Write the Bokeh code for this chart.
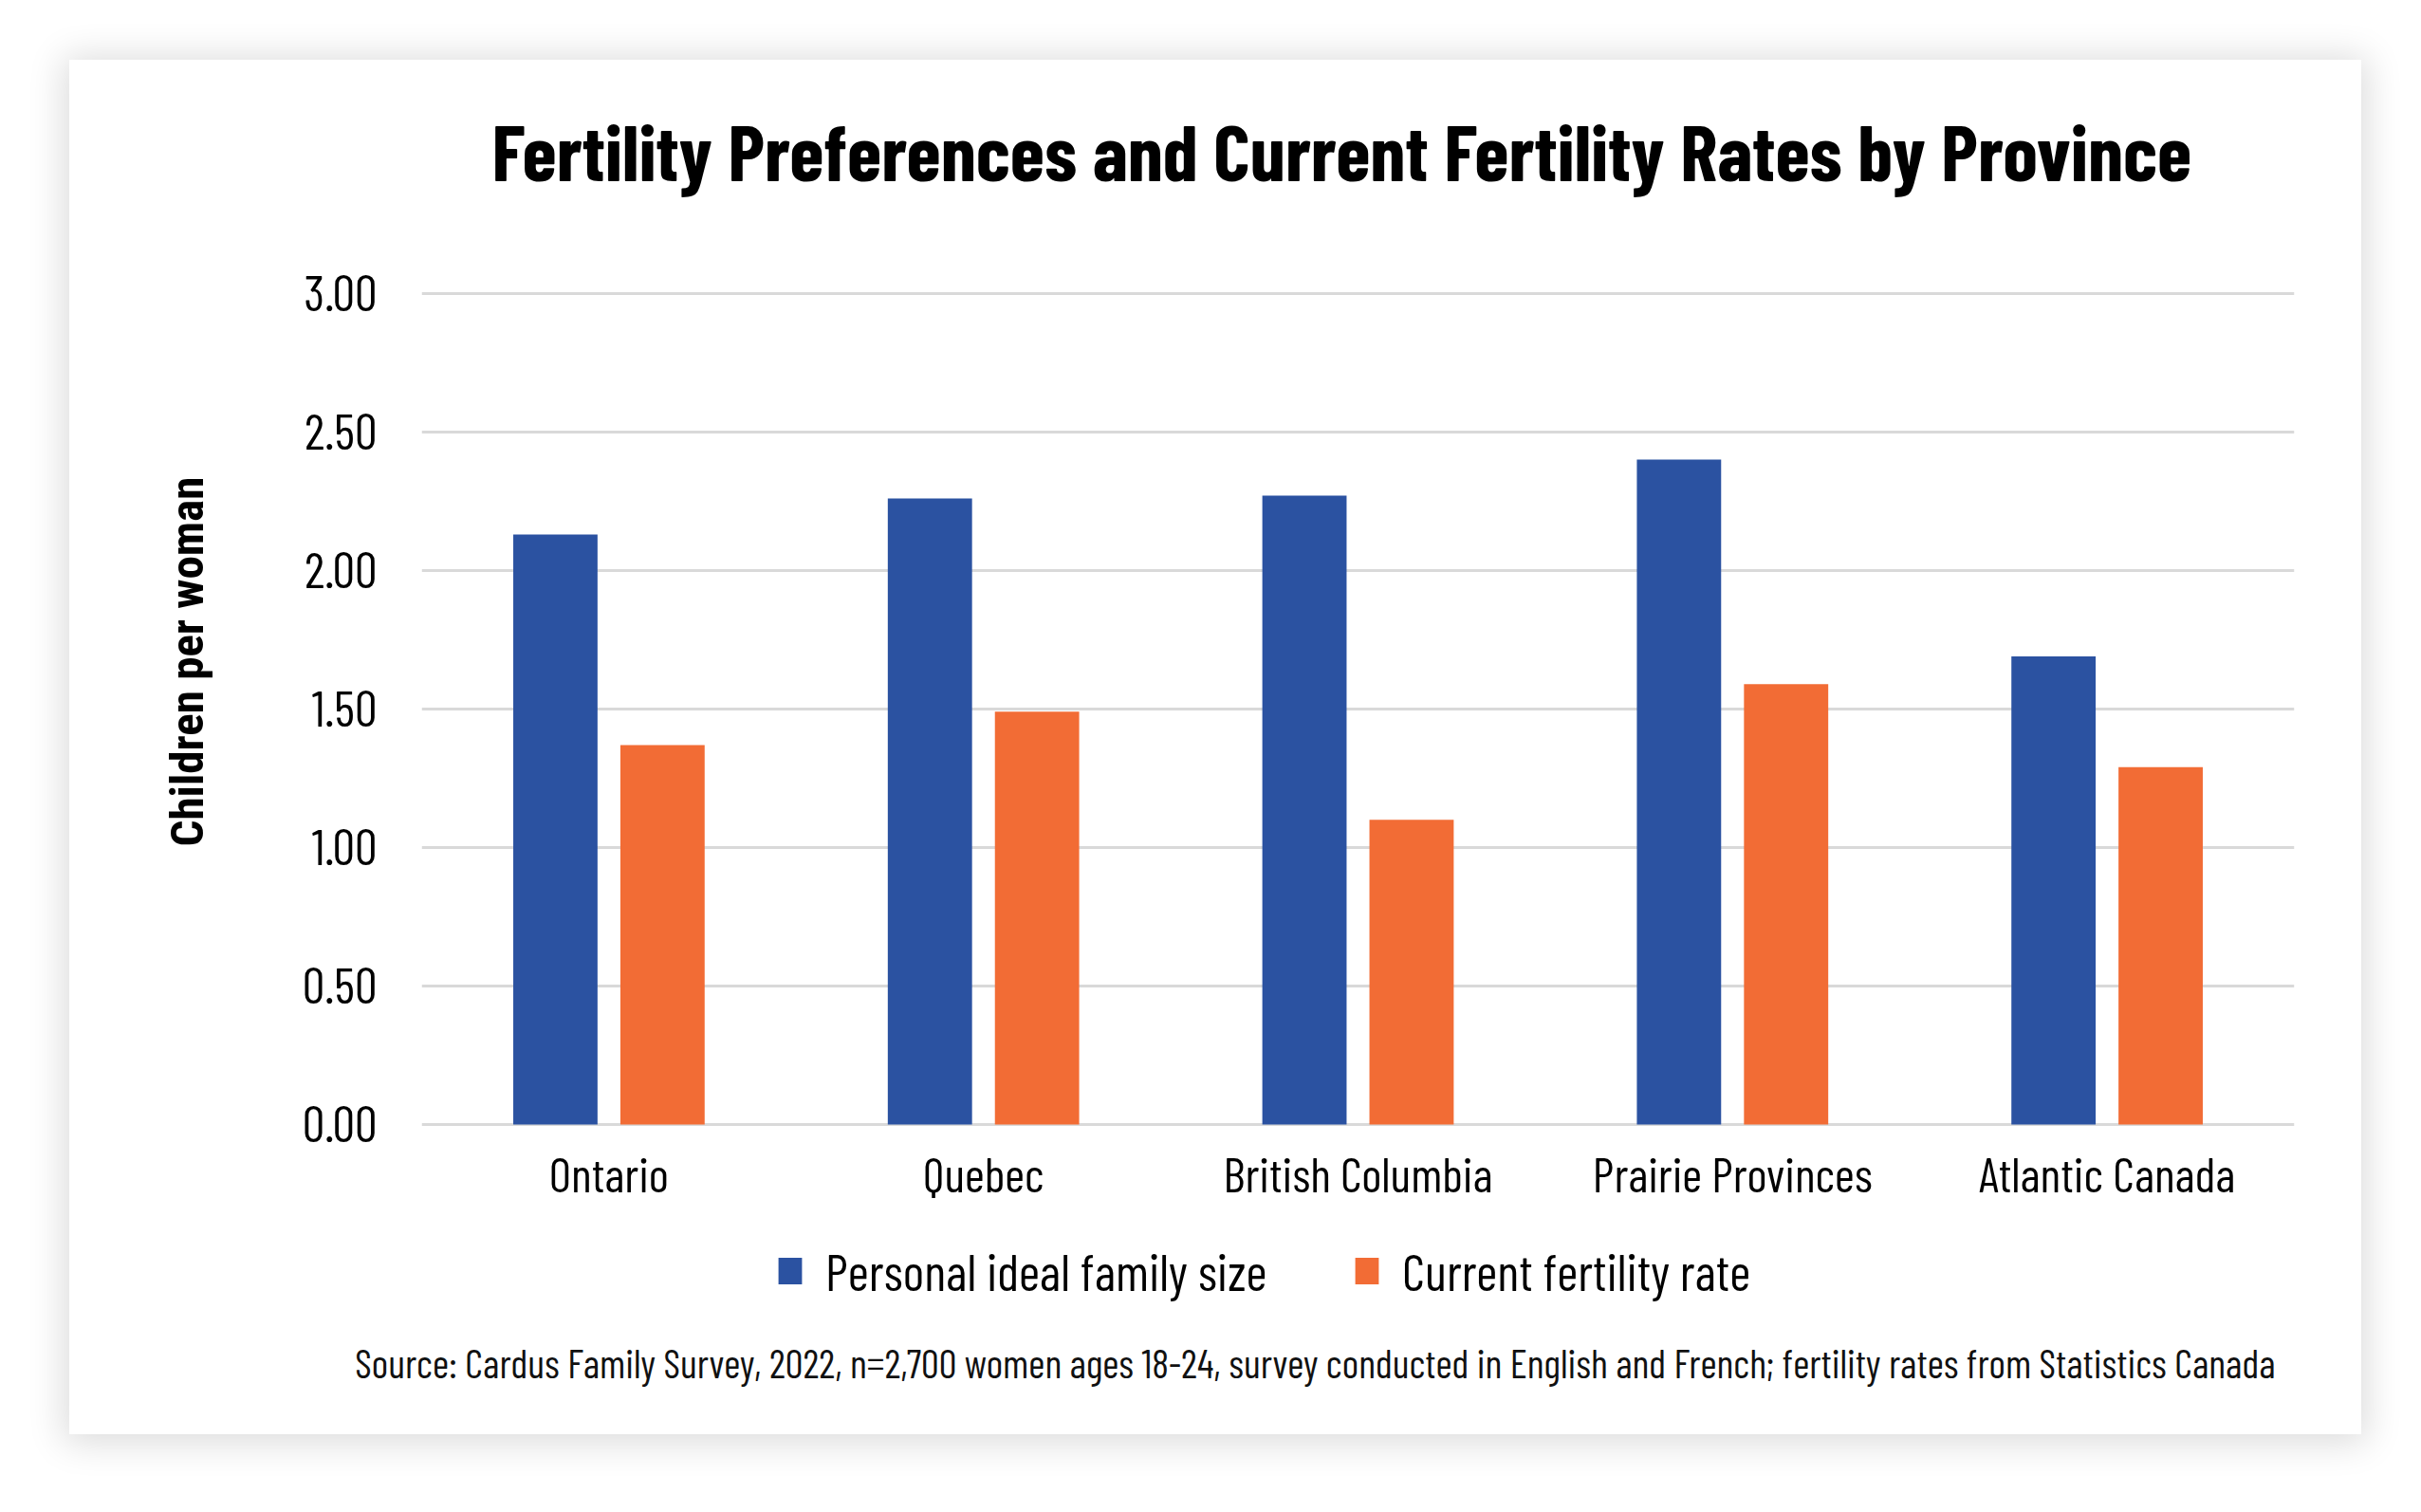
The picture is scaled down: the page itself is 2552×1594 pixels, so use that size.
from bokeh.plotting import figure
from bokeh.models import (FactorRange, FixedTicker, PrintfTickFormatter, Legend,
                          LegendItem, Title, ColumnDataSource)
from bokeh.transform import dodge
from bokeh.core.properties import value
from bokeh.embed import file_html
from bokeh.resources import INLINE

# ---------------- data ----------------
provinces = ["Ontario", "Quebec", "British Columbia", "Prairie Provinces", "Atlantic Canada"]
ideal_family_size = [2.13, 2.26, 2.27, 2.40, 1.69]
fertility_rate = [1.37, 1.49, 1.10, 1.59, 1.29]
y_ticks = [0.0, 0.5, 1.0, 1.5, 2.0, 2.5, 3.0]
series_names = ["Personal ideal family size", "Current fertility rate"]
title_text = "Fertility Preferences and Current Fertility Rates by Province"
y_label = "Children per woman"
source_note = ("Source: Cardus Family Survey, 2022, n=2,700 women ages 18-24, survey conducted "
               "in English and French; fertility rates from Statistics Canada")

# ---------------- style ----------------
BAR_BLUE = "#2B52A1"
BAR_ORANGE = "#F26C35"
GRID = "#D9D9D9"
COND = "Barlow Condensed"

src = ColumnDataSource(dict(province=provinces, ideal=ideal_family_size, rate=fertility_rate))

# the frame runs from the top of the value area down past the legend,
# so that the category labels and the legend live inside it
p = figure(x_range=FactorRange(factors=provinces, range_padding=0),
           y_range=(-0.7532, 3.335),
           frame_width=1974, frame_height=1194,
           output_backend="svg", toolbar_location=None,
           min_border_left=371, min_border_right=71,
           min_border_top=148, min_border_bottom=107)

p.styles = {"margin-left": "73px", "margin-top": "63px",
            "box-shadow": "0px 3px 36px 6px rgba(0,0,0,0.14)"}

p.background_fill_color = "white"
p.border_fill_color = "white"
p.outline_line_color = None

p.xgrid.grid_line_color = None
p.ygrid.grid_line_color = GRID
p.ygrid.grid_line_width = 3

p.yaxis.ticker = FixedTicker(ticks=y_ticks)
p.yaxis.formatter = PrintfTickFormatter(format="%.2f")
p.yaxis.axis_line_color = None
p.yaxis.major_tick_line_color = None
p.yaxis.minor_tick_line_color = None
p.yaxis.major_tick_out = 0
p.yaxis.major_label_standoff = 47
p.yaxis.major_label_text_font = COND
p.yaxis.major_label_text_font_size = "53px"
p.yaxis.major_label_text_color = "#000000"

p.xaxis.visible = False

r1 = p.vbar(x=dodge("province", -0.143, range=p.x_range), top="ideal", width=0.225,
            source=src, fill_color=BAR_BLUE, line_color=None)
r2 = p.vbar(x=dodge("province", 0.143, range=p.x_range), top="rate", width=0.225,
            source=src, fill_color=BAR_ORANGE, line_color=None)

# category labels under the zero line
p.text(x="province", y=0, text="province", source=src, y_offset=51,
       text_align="center", text_baseline="alphabetic",
       text_font=value(COND), text_font_size=value("51px"), text_color="#000000")

legend = Legend(items=[LegendItem(label=series_names[0], renderers=[r1]),
                       LegendItem(label=series_names[1], renderers=[r2])],
                orientation="horizontal", location=(373, 33),
                glyph_width=31, glyph_height=35, label_standoff=22, spacing=35,
                label_width=520,
                padding=0, margin=0, border_line_color=None, background_fill_alpha=0,
                label_text_font=COND, label_text_font_size="54px",
                label_text_color="#000000")
p.add_layout(legend, "center")

# y-axis title, placed beside the value scale
p.add_layout(Title(text=y_label, align="left", offset=513, vertical_align="top",
                   standoff=176, text_font="Roboto Condensed", text_font_style="bold",
                   text_font_size="49px", text_color="#000000"), "left")

p.title.text = title_text
p.title.align = "left"
p.title.offset = 74
p.title.standoff = 8
p.title.text_font = COND
p.title.text_font_style = "bold"
p.title.text_font_size = "83px"
p.title.text_color = "#000000"

p.add_layout(Title(text=source_note, align="right", offset=20, standoff=6, text_font=COND,
                   text_font_style="normal", text_font_size="42px",
                   text_color="#111111"), "below")

open("out.html", "w").write(file_html(p, INLINE))
